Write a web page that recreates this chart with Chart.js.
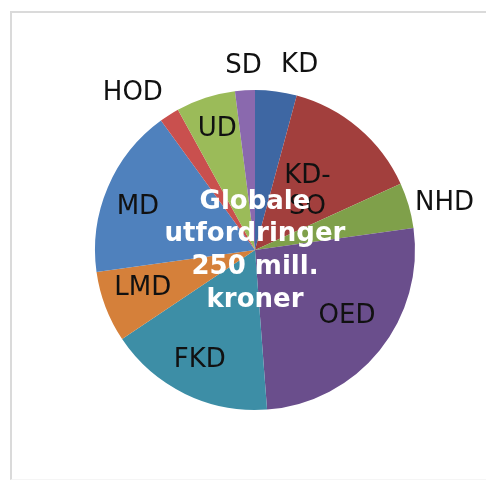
<!DOCTYPE html>
<html>
<head>
<meta charset="utf-8">
<script src="https://cdn.jsdelivr.net/npm/chart.js@4/dist/chart.umd.min.js"></script>
<style>
  html, body { margin: 0; padding: 0; background: #fff; }
  #wrap { position: relative; width: 486px; height: 483px; overflow: hidden; }
  #frame { position: absolute; left: 10px; top: 11px; width: 490px; height: 466px;
           border-left: 2px solid #dadada; border-top: 2px solid #dadada; border-bottom: 1px solid #f5f5f5; }
  #myChart { position: absolute; left: 0; top: 0; }
</style>
</head>
<body>
<div id="wrap">
  <div id="frame"></div>
  <canvas id="myChart" width="486" height="483"></canvas>
</div>
<script>
// ministries, mill. kroner (total 250)
var categories = ['KD', 'KD-SO', 'NHD', 'OED', 'FKD', 'LMD', 'MD', 'HOD', 'UD', 'SD'];
var values = [10.5, 35, 11.5, 65, 42, 18, 43, 5, 15, 5];
var colors = ['#3E67A3', '#A23F3D', '#7FA04A', '#6A4E8C', '#3D8EA6',
              '#D5803A', '#4F81BD', '#C9504E', '#9BBB59', '#8A69AE'];
var centerLines = ['Globale', 'utfordringer', '250 mill.', 'kroner'];

// label placement: [radius factor, angle shift in degrees]
var labelPlace = [[1.19, 6], [0.49, 1.6], [1.22, 2.4], [0.71, -3], [0.77, 0.7],
                  [0.74, 2.2], [0.78, -2.8], [1.24, -5.6], [0.79, 0.6], [1.15, 0]];

var labelPlugin = {
    id: 'sliceLabels',
    afterDatasetsDraw: function(chart) {
        var ctx = chart.ctx;
        var arcs = chart.getDatasetMeta(0).data;
        ctx.save();
        ctx.textAlign = 'center';
        ctx.textBaseline = 'middle';
        ctx.font = '26px "DejaVu Sans", Verdana, sans-serif';
        ctx.fillStyle = '#111';
        arcs.forEach(function(arc, i) {
            var p = arc.getProps(['x', 'y', 'startAngle', 'endAngle', 'outerRadius'], true);
            var mid = (p.startAngle + p.endAngle) / 2 + labelPlace[i][1] * Math.PI / 180;
            var r = p.outerRadius * labelPlace[i][0];
            var x = p.x + Math.cos(mid) * r;
            var y = p.y + Math.sin(mid) * r;
            var parts = categories[i].indexOf('-') > 0
                ? [categories[i].split('-')[0] + '-', categories[i].split('-')[1]]
                : [categories[i]];
            var lh = 31;
            parts.forEach(function(t, j) {
                ctx.fillText(t, x, y + (j - (parts.length - 1) / 2) * lh);
            });
        });

        // centre title
        var c = arcs[0].getProps(['x', 'y'], true);
        ctx.font = 'bold 26px "DejaVu Sans", Verdana, sans-serif';
        ctx.fillStyle = '#fff';
        var step = 32.7;
        centerLines.forEach(function(t, j) {
            ctx.fillText(t, c.x, c.y + 1 + (j - (centerLines.length - 1) / 2) * step);
        });
        ctx.restore();
    }
};

var ctx = document.getElementById('myChart').getContext('2d');
new Chart(ctx, {
    type: 'pie',
    data: {
        labels: categories,
        datasets: [{
            data: values,
            backgroundColor: colors,
            borderWidth: 0
        }]
    },
    options: {
        responsive: false,
        animation: false,
        layout: { padding: { left: 95, right: 71, top: 90, bottom: 73 } },
        plugins: {
            legend: { display: false },
            tooltip: { enabled: false }
        }
    },
    plugins: [labelPlugin]
});
</script>
</body>
</html>
